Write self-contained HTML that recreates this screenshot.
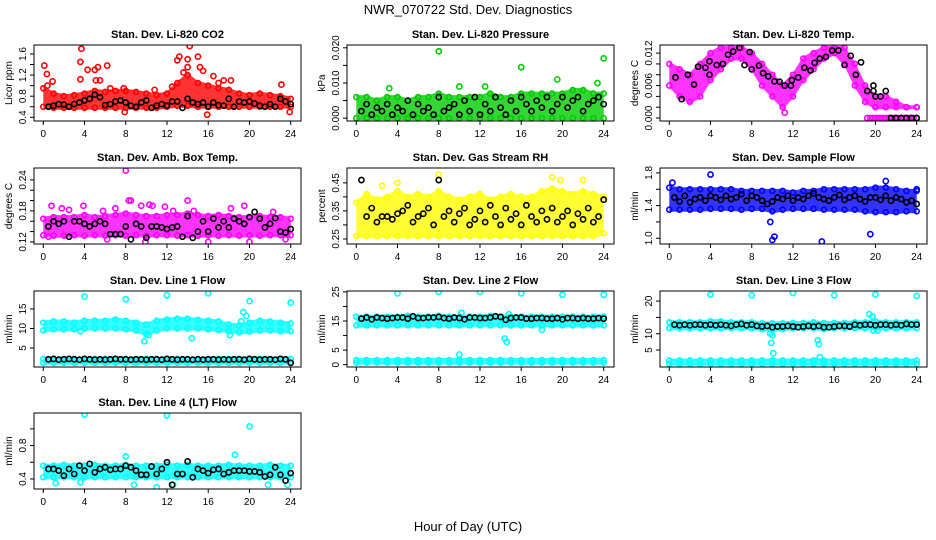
<!DOCTYPE html>
<html><head><meta charset="utf-8"><style>
body{margin:0;background:#fff}
svg{display:block;font-family:"Liberation Sans",sans-serif}
</style></head><body>
<svg id="c" width="936" height="540" viewBox="0 0 936 540">
<text x="468" y="14" text-anchor="middle" font-size="13">NWR_070722 Std. Dev. Diagnostics</text>
<text x="468" y="531" text-anchor="middle" font-size="13">Hour of Day (UTC)</text>
</svg>
<script>
const hours=[0,1,2,3,4,5,6,7,8,9,10,11,12,13,14,15,16,17,18,19,20,21,22,23,24];
const halfHours=[0.5,1,1.5,2,2.5,3,3.5,4,4.5,5,5.5,6,6.5,7,7.5,8,8.5,9,9.5,10,10.5,11,11.5,12,12.5,13,13.5,14,14.5,15,15.5,16,16.5,17,17.5,18,18.5,19,19.5,20,20.5,21,21.5,22,22.5,23,23.5,24];
const xTicks=[0,4,8,12,16,20,24];

// CO2
const co2Lo=[0.6,0.58,0.58,0.58,0.58,0.58,0.58,0.58,0.58,0.58,0.58,0.58,0.6,0.62,0.62,0.6,0.6,0.6,0.6,0.6,0.6,0.6,0.6,0.6,0.6];
const co2Hi=[0.95,0.85,0.8,0.82,0.85,0.9,0.88,0.9,0.9,0.88,0.85,0.82,0.85,1.05,1.2,1.05,1.0,0.95,0.92,0.85,0.82,0.85,0.82,0.8,0.75];
const co2OutX=[0.1,0.35,0.4,0.9,3.6,3.7,3.6,4.3,5.0,5.3,5.1,5.5,6.2,6.5,7.9,7.8,13.0,13.2,13.6,14.0,14.2,14.0,15.0,15.2,15.5,15.9,16.5,17.0,17.5,18.2,23.1,23.9,10.8,12.5];
const co2OutY=[1.38,1.22,1.0,1.08,1.45,1.7,1.12,1.3,1.3,1.35,1.1,1.1,1.38,0.95,0.5,0.95,1.48,1.55,1.25,1.5,1.75,1.35,1.55,1.35,1.28,0.45,1.18,1.05,1.1,1.1,1.02,0.5,0.92,0.98];
const co2Black=[0.6,0.62,0.65,0.64,0.6,0.65,0.68,0.72,0.75,0.83,0.78,0.63,0.65,0.7,0.72,0.68,0.62,0.6,0.68,0.72,0.58,0.62,0.65,0.62,0.7,0.7,0.58,0.75,0.68,0.65,0.68,0.6,0.68,0.63,0.62,0.75,0.6,0.7,0.68,0.7,0.66,0.62,0.6,0.65,0.6,0.75,0.7,0.65];
// Pressure
const presLo=[0,0,0,0,0,0,0,0,0,0,0,0,0,0,0,0,0,0,0,0,0,0,0,0,0];
const presHi=[0.006,0.006,0.005,0.006,0.006,0.005,0.006,0.006,0.007,0.006,0.006,0.006,0.006,0.007,0.006,0.006,0.007,0.007,0.007,0.007,0.007,0.008,0.008,0.007,0.007];
const presOutX=[8,16,24,19.5,23.4,10,3.2,12.5];
const presOutY=[0.019,0.0145,0.017,0.011,0.01,0.009,0.0085,0.009];
const presBlack=[0.002,0.004,0.001,0.003,0.002,0.004,0.001,0.003,0.002,0.005,0.001,0.004,0.002,0.003,0.001,0.006,0.002,0.003,0.004,0.001,0.005,0.002,0.006,0.001,0.004,0.002,0.006,0.003,0.001,0.005,0.002,0.006,0.004,0.002,0.005,0.003,0.006,0.002,0.004,0.006,0.003,0.005,0.006,0.002,0.004,0.005,0.006,0.004];
// Temp
const tempLo=[0.006,0.004,0.003,0.004,0.007,0.009,0.011,0.011,0.009,0.006,0.004,0.002,0.004,0.007,0.009,0.011,0.012,0.010,0.006,0.003,0.002,0.002,0.002,0.002,0.002];
const tempHi=[0.010,0.009,0.008,0.010,0.012,0.013,0.013,0.013,0.012,0.010,0.008,0.006,0.008,0.011,0.012,0.013,0.013,0.013,0.010,0.006,0.004,0.004,0.003,0.002,0.002];
const tempOutX=[19.2,19.5,19.8,20.1,20.4,20.7,21.0,21.3,21.6,21.9,22.2,22.5,22.8,23.1,23.4,23.7,24.0,11.2];
const tempOutY=[0,0,0,0,0,0,0,0,0,0,0,0,0,0,0,0,0,0.001];
const tempBlackX=[0.6,1.2,1.8,2.4,2.8,3.5,3.9,3.9,4.6,5.2,5.7,6.2,6.8,7.3,7.8,8.0,8.7,9.1,9.6,10.2,10.7,11.2,11.8,11.9,12.5,13.1,13.7,14.1,14.6,15.2,15.8,16.4,17.0,17.6,18.1,18.6,19.2,19.8,19.8,20.0,20.5,21.0,21.5,22.0,22.5,23.0,23.5,24.0];
const tempBlackY=[0.0075,0.0035,0.008,0.0062,0.0095,0.0093,0.0105,0.008,0.0098,0.010,0.0117,0.0123,0.013,0.0098,0.0122,0.009,0.0097,0.0083,0.0077,0.0068,0.0067,0.006,0.006,0.007,0.0075,0.0093,0.0088,0.0102,0.011,0.0113,0.0125,0.0125,0.0098,0.0115,0.008,0.0103,0.005,0.005,0.006,0.004,0.004,0.005,0,0,0,0,0,0];
// Amb box
const ambLo=[0.133,0.132,0.132,0.133,0.132,0.133,0.132,0.133,0.132,0.133,0.132,0.133,0.133,0.132,0.133,0.132,0.133,0.132,0.133,0.132,0.133,0.132,0.133,0.133,0.133];
const ambHi=[0.165,0.168,0.168,0.168,0.172,0.168,0.17,0.172,0.175,0.172,0.17,0.17,0.172,0.172,0.175,0.172,0.17,0.172,0.17,0.168,0.168,0.17,0.168,0.168,0.165];
const ambOutX=[8,0.8,1.8,3.9,5.8,7.0,8.3,8.5,9.5,10.3,10.6,11.8,12.6,14.0,14.6,18.2,19.5,9.9,16.0,20.0,0.5,6.2,23.5,2.5,22.3];
const ambOutY=[0.258,0.19,0.185,0.19,0.18,0.185,0.2,0.2,0.19,0.192,0.19,0.188,0.18,0.2,0.18,0.185,0.19,0.12,0.12,0.12,0.13,0.125,0.125,0.182,0.178];
const ambBlack=[0.15,0.16,0.155,0.16,0.13,0.16,0.16,0.155,0.15,0.155,0.16,0.155,0.135,0.135,0.135,0.15,0.125,0.155,0.15,0.128,0.15,0.15,0.148,0.145,0.148,0.15,0.13,0.17,0.128,0.14,0.16,0.14,0.165,0.148,0.16,0.148,0.165,0.16,0.155,0.168,0.178,0.165,0.148,0.155,0.166,0.14,0.138,0.145];
// RH
const rhLo=[0.26,0.26,0.26,0.26,0.26,0.26,0.26,0.26,0.26,0.26,0.26,0.26,0.26,0.26,0.26,0.26,0.26,0.26,0.26,0.26,0.26,0.26,0.26,0.26,0.27];
const rhHi=[0.38,0.41,0.39,0.4,0.42,0.4,0.41,0.4,0.42,0.4,0.39,0.4,0.41,0.39,0.4,0.41,0.4,0.4,0.42,0.43,0.42,0.41,0.42,0.41,0.4];
const rhOutX=[8,4,19,19.8,22,2.5];
const rhOutY=[0.48,0.45,0.47,0.46,0.46,0.44];
const rhBlack=[0.46,0.33,0.36,0.31,0.33,0.33,0.32,0.34,0.35,0.37,0.31,0.33,0.34,0.36,0.3,0.46,0.33,0.35,0.31,0.34,0.36,0.3,0.32,0.35,0.31,0.37,0.33,0.3,0.36,0.32,0.34,0.3,0.37,0.33,0.31,0.35,0.32,0.36,0.31,0.33,0.35,0.3,0.34,0.32,0.36,0.31,0.33,0.39];
// Sample flow
const sfLo=[1.35,1.35,1.35,1.35,1.36,1.36,1.36,1.35,1.36,1.36,1.33,1.35,1.36,1.36,1.36,1.35,1.35,1.35,1.35,1.33,1.32,1.32,1.32,1.33,1.33];
const sfHi=[1.62,1.6,1.6,1.6,1.6,1.6,1.6,1.58,1.58,1.58,1.58,1.58,1.56,1.58,1.58,1.6,1.6,1.6,1.6,1.6,1.62,1.62,1.6,1.58,1.58];
const sfOutX=[4,10,10.2,14.8,9.8,19.5,21,24,0.3];
const sfOutY=[1.78,0.98,1.02,0.96,1.2,1.05,1.7,1.6,1.68];
const sfBlack=[1.5,1.45,1.52,1.44,1.48,1.5,1.46,1.52,1.5,1.47,1.52,1.48,1.5,1.54,1.46,1.52,1.5,1.46,1.42,1.45,1.5,1.48,1.52,1.46,1.5,1.48,1.52,1.55,1.5,1.48,1.46,1.5,1.53,1.47,1.5,1.52,1.48,1.45,1.5,1.5,1.47,1.52,1.46,1.5,1.48,1.44,1.46,1.42];
// Line 1
const l1Lo=[9.5,9.8,9.8,9.8,10,10,10,10,9.8,9.5,8.5,9.5,10,10,10,10,9.8,9.6,9.3,9,9.2,9.5,9.5,9.3,9.3];
const l1Hi=[11.5,11.8,11.8,11.5,12,12,12,12.3,12,11.5,11,12,12.3,12.5,12.5,12.2,12,11.8,11,10.8,11.5,12,11.8,11.5,11.3];
const l1Lo2=[1.2,1.2,1.2,1.2,1.2,1.2,1.2,1.2,1.2,1.2,1.2,1.2,1.2,1.2,1.2,1.2,1.2,1.2,1.2,1.2,1.2,1.2,1.2,1.2,1.2];
const l1Hi2=[2.2,2.2,2.2,2.2,2.2,2.2,2.2,2.2,2.2,2.2,2.2,2.2,2.2,2.2,2.2,2.2,2.2,2.2,2.2,2.2,2.2,2.2,2.2,2.2,2.2];
const l1OutX=[4,8,12,16,20,24,9.8,14.4,19.4,19.7,19.2,10.2,3.6,18.1];
const l1OutY=[18.2,17.5,18.5,19,17,16.6,6.7,7.5,14.2,13.2,11.8,8.3,9.3,8.3];
const l1Black=[2.1,2.2,2.0,2.1,2.2,2.1,2.0,2.2,2.1,2.0,2.1,2.0,2.1,2.2,2.1,2.1,2.0,2.1,2.1,2.0,2.1,2.1,2.0,2.2,2.1,2.0,2.1,2.1,2.0,2.1,2.0,2.1,2.1,2.0,2.1,2.0,2.1,2.1,2.0,2.2,2.1,2.0,2.1,2.1,2.0,2.2,2.1,1.2];
// Line 2
const l2Lo=[13.5,13.5,13.5,13.5,13.5,13.5,13.5,13.5,13.5,13.5,13.5,13.5,13.5,13.5,13.5,13.5,13.5,13.5,13.5,13.5,13.5,13.5,13.5,13.5,13.5];
const l2Hi=[16.5,16.5,16.5,16.5,16.5,16.8,16.5,16.5,16.8,16.5,16.5,16.5,16.5,16.8,16.5,16.5,16.5,16.5,16.5,16.5,16.5,16.5,16.5,16.5,16.5];
const l2Lo2=[0.7,0.7,0.7,0.7,0.7,0.7,0.7,0.7,0.7,0.7,0.7,0.7,0.7,0.7,0.7,0.7,0.7,0.7,0.7,0.7,0.7,0.7,0.7,0.7,0.7];
const l2Hi2=[1.6,1.6,1.6,1.6,1.6,1.6,1.6,1.6,1.6,1.6,1.6,1.6,1.6,1.6,1.6,1.6,1.6,1.6,1.6,1.6,1.6,1.6,1.6,1.6,1.6];
const l2OutX=[4,8,12,16,20,24,10,10.2,14.4,14.6,18,14.8];
const l2OutY=[24.5,25,25,24.5,24,24,3.5,17.8,9,7.8,12,17.3];
const l2Black=[15.8,16.2,15.6,16.2,16,15.8,16,16.2,16.2,15.8,16.6,16,16,16.2,16.2,16.4,16,15.8,16.2,16,15.6,16.2,16.2,16,16,16.2,16.6,16.4,15.4,16,16.2,16.2,15.8,15.8,16,16,15.8,15.8,16,15.6,16,16,15.8,16,15.8,15.8,16,15.8];
// Line 3
const l3Lo=[11.7,11.7,11.7,11.7,11.7,11.7,11.7,11.7,11.7,11.4,11.2,11.4,11.7,11.7,11.7,11.4,11.7,11.7,11.7,11.7,11.7,11.7,11.7,11.7,11.7];
const l3Hi=[13.5,13.5,13.5,13.5,13.8,13.8,13.5,13.5,13.5,13.2,13.2,13.2,13.3,13.3,13.5,13.3,13.3,13.3,13.5,13.5,13.8,13.5,13.5,13.5,13.5];
const l3Lo2=[0.8,0.8,0.8,0.8,0.8,0.8,0.8,0.8,0.8,0.8,0.8,0.8,0.8,0.8,0.8,0.8,0.8,0.8,0.8,0.8,0.8,0.8,0.8,0.8,0.8];
const l3Hi2=[1.8,1.8,1.8,1.8,1.8,1.8,1.8,1.8,1.8,1.8,1.8,1.8,1.8,1.8,1.8,1.8,1.8,1.8,1.8,1.8,1.8,1.8,1.8,1.8,1.8];
const l3OutX=[4,8,12,16,20,24,9.8,9.9,10.1,10,14.4,14.5,14.6,19.4,19.7,19.8,20.2];
const l3OutY=[22,21.8,22.5,21.8,22,21.6,10,7.2,4,9.5,8,6.8,2.8,16,15.3,11,11];
const l3Black=[12.8,12.6,12.8,12.6,12.8,12.8,12.6,12.8,12.6,12.8,12.6,12.4,12.8,13,12.6,12.8,12.4,12.2,12.4,12,12.2,12.2,12.4,12.2,12,12.2,12.4,12.2,12.4,12,12,12.2,12.4,12.4,12.2,12.8,12.6,12.8,12.8,12.6,12.8,12.8,12.6,12.8,12.6,13,12.8,12.8];
// Line 4
const l4Lo=[0.42,0.42,0.42,0.42,0.42,0.42,0.42,0.42,0.42,0.42,0.42,0.42,0.42,0.42,0.42,0.42,0.42,0.42,0.42,0.42,0.42,0.42,0.42,0.42,0.42];
const l4Hi=[0.56,0.56,0.57,0.56,0.56,0.57,0.56,0.56,0.57,0.56,0.56,0.56,0.57,0.56,0.57,0.56,0.56,0.56,0.57,0.56,0.56,0.56,0.57,0.56,0.56];
const l4OutX=[4,12,20,18.6,8,1.2,8.8,11,12.6,21.8,23.7,3.6];
const l4OutY=[1.17,1.16,1.03,0.69,0.67,0.35,0.33,0.3,0.33,0.33,0.33,0.36];
const l4Black=[0.52,0.52,0.5,0.44,0.52,0.46,0.56,0.5,0.58,0.48,0.52,0.54,0.51,0.52,0.52,0.56,0.54,0.5,0.45,0.45,0.55,0.46,0.52,0.6,0.33,0.46,0.46,0.61,0.42,0.52,0.5,0.47,0.51,0.52,0.46,0.48,0.5,0.5,0.5,0.49,0.49,0.48,0.43,0.45,0.54,0.45,0.38,0.47];

const panels=[
 {name:"co2",title:"Stan. Dev. Li-820 CO2",ylab:"Licor ppm",col:0,row:0,y0:0.33,y1:1.77,ticks:[0.4,0.6,0.8,1.0,1.2,1.4,1.6],labels:["0.4","","0.8","","1.2","","1.6"],color:"#ff0000",bands:[[co2Lo,co2Hi]],ox:co2OutX,oy:co2OutY,bx:halfHours,by:co2Black},
 {name:"pressure",title:"Stan. Dev. Li-820 Pressure",ylab:"kPa",col:1,row:0,y0:-0.0008,y1:0.0208,ticks:[0,0.005,0.01,0.015,0.02],labels:["0.000","","0.010","","0.020"],color:"#00cd00",bands:[[presLo,presHi]],ox:presOutX,oy:presOutY,bx:halfHours,by:presBlack},
 {name:"temp",title:"Stan. Dev. Li-820 Temp.",ylab:"degrees C",col:2,row:0,y0:-0.00055,y1:0.0135,ticks:[0,0.002,0.004,0.006,0.008,0.010,0.012],labels:["0.000","","","0.006","","","0.012"],color:"#ff00ff",bands:[[tempLo,tempHi]],ox:tempOutX,oy:tempOutY,bx:tempBlackX,by:tempBlackY},
 {name:"amb-box",title:"Stan. Dev. Amb. Box Temp.",ylab:"degrees C",col:0,row:1,y0:0.116,y1:0.263,ticks:[0.12,0.14,0.16,0.18,0.20,0.22,0.24],labels:["0.12","","","0.18","","","0.24"],color:"#ff00ff",bands:[[ambLo,ambHi]],ox:ambOutX,oy:ambOutY,bx:halfHours,by:ambBlack},
 {name:"rh",title:"Stan. Dev. Gas Stream RH",ylab:"percent",col:1,row:1,y0:0.232,y1:0.503,ticks:[0.25,0.3,0.35,0.4,0.45],labels:["0.25","","0.35","","0.45"],color:"#ffff00",bands:[[rhLo,rhHi]],ox:rhOutX,oy:rhOutY,bx:halfHours,by:rhBlack},
 {name:"sample-flow",title:"Stan. Dev. Sample Flow",ylab:"ml/min",col:2,row:1,y0:0.93,y1:1.86,ticks:[1.0,1.2,1.4,1.6,1.8],labels:["1.0","","1.4","","1.8"],color:"#0000ff",bands:[[sfLo,sfHi]],ox:sfOutX,oy:sfOutY,bx:halfHours,by:sfBlack},
 {name:"line1",title:"Stan. Dev. Line 1 Flow",ylab:"ml/min",col:0,row:2,y0:0.13,y1:19.6,ticks:[5,10,15],labels:["5","10","15"],color:"#00ffff",bands:[[l1Lo,l1Hi],[l1Lo2,l1Hi2]],ox:l1OutX,oy:l1OutY,bx:halfHours,by:l1Black},
 {name:"line2",title:"Stan. Dev. Line 2 Flow",ylab:"ml/min",col:1,row:2,y0:-0.8,y1:25.3,ticks:[0,5,10,15,20,25],labels:["0","5","","15","","25"],color:"#00ffff",bands:[[l2Lo,l2Hi],[l2Lo2,l2Hi2]],ox:l2OutX,oy:l2OutY,bx:halfHours,by:l2Black},
 {name:"line3",title:"Stan. Dev. Line 3 Flow",ylab:"ml/min",col:2,row:2,y0:-0.2,y1:23.1,ticks:[5,10,15,20],labels:["5","10","","20"],color:"#00ffff",bands:[[l3Lo,l3Hi],[l3Lo2,l3Hi2]],ox:l3OutX,oy:l3OutY,bx:halfHours,by:l3Black},
 {name:"line4",title:"Stan. Dev. Line 4 (LT) Flow",ylab:"ml/min",col:0,row:3,y0:0.28,y1:1.19,ticks:[0.4,0.6,0.8,1.0],labels:["0.4","","0.8",""],color:"#00ffff",bands:[[l4Lo,l4Hi]],ox:l4OutX,oy:l4OutY,bx:halfHours,by:l4Black}
];

const NS="http://www.w3.org/2000/svg";
const svg=document.getElementById('c');
const colLeft=[34,347,660], rowTop=[45,168,291,413], W=267, H=76;
function mk(tag,attrs,parent){const e=document.createElementNS(NS,tag);for(const k in attrs)e.setAttribute(k,attrs[k]);parent.appendChild(e);return e;}

panels.forEach(p=>{
  const L=colLeft[p.col], T=rowTop[p.row];
  const xs=v=>L+(v+0.9)/(25.9)*W;
  const ys=v=>T+H-(v-p.y0)/(p.y1-p.y0)*H;
  const g=mk('g',{},svg);
  
  
  const clip=mk('clipPath',{id:'cl-'+p.name},g);
  mk('rect',{x:L,y:T,width:W,height:H},clip);
  const plot=mk('g',{'clip-path':'url(#cl-'+p.name+')'},g);
  p.bands.forEach((b,bi)=>{
    const lo=b[0],hi=b[1];
    let d='';
    hours.forEach((h,i)=>{d+=(i?'L':'M')+xs(h).toFixed(1)+','+(ys(hi[i])-2).toFixed(1);});
    for(let i=hours.length-1;i>=0;i--)d+='L'+xs(hours[i]).toFixed(1)+','+(ys(lo[i])+2).toFixed(1);
    const band=mk('path',{d:d+'Z',fill:p.color,'fill-opacity':0.8,stroke:'none'},plot);
    
    
    hours.forEach((h,i)=>{
      [lo[i],hi[i]].forEach(v=>{
        const c=mk('circle',{cx:xs(h),cy:ys(v),r:2.5,fill:'none',stroke:p.color,'stroke-width':1.6},plot);
        
        
      });
    });
  });
  p.ox.forEach((x,i)=>{
    const c=mk('circle',{cx:xs(x),cy:ys(p.oy[i]),r:2.6,fill:'none',stroke:p.color,'stroke-width':1.6},plot);
    
    
  });
  p.bx.forEach((x,i)=>{
    const c=mk('circle',{cx:xs(x),cy:ys(p.by[i]),r:2.6,fill:'none',stroke:'#000','stroke-width':1.6},plot);
    
    
  });
  const box=mk('rect',{x:L,y:T,width:W,height:H,fill:'none',stroke:'#000','stroke-width':1},g);
  
  
  const t=mk('text',{x:L+W/2,y:T-7,'text-anchor':'middle','font-size':11,'font-weight':'bold'},g);
  t.textContent=p.title;
  
  
  xTicks.forEach(v=>{
    mk('line',{x1:xs(v),x2:xs(v),y1:T+H,y2:T+H+4,stroke:'#000'},g);
    const tl=mk('text',{x:xs(v),y:T+H+16,'text-anchor':'middle','font-size':10},g);
    tl.textContent=v;
    
    
  });
  p.ticks.forEach((v,i)=>{
    mk('line',{x1:L-4,x2:L,y1:ys(v),y2:ys(v),stroke:'#000'},g);
    if(p.labels[i]){
      const tl=mk('text',{x:L-8,y:ys(v),'text-anchor':'middle','font-size':10,transform:'rotate(-90 '+(L-8)+' '+ys(v)+')'},g);
      tl.textContent=p.labels[i];
      
      
    }
  });
  const yl=mk('text',{x:L-22,y:T+H/2,'text-anchor':'middle','font-size':10,transform:'rotate(-90 '+(L-22)+' '+(T+H/2)+')'},g);
  yl.textContent=p.ylab;
  
  
});
</script>
</body></html>
